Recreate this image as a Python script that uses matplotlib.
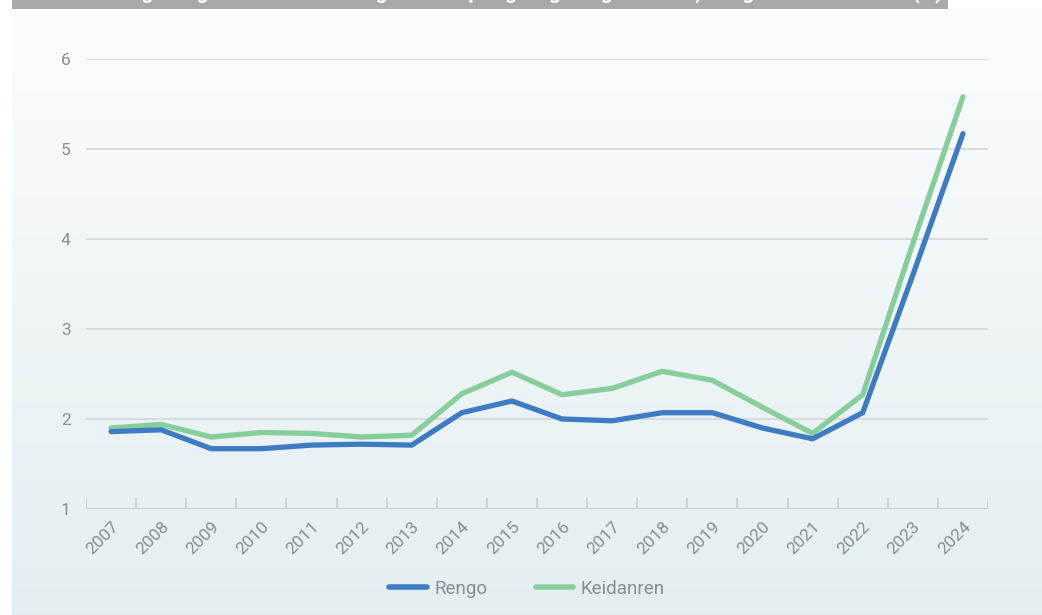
import matplotlib
matplotlib.use("Agg")
from matplotlib import pyplot as plt
from matplotlib.patches import Rectangle
import numpy as np

years = ['2007', '2008', '2009', '2010', '2011', '2012', '2013', '2014', '2015',
         '2016', '2017', '2018', '2019', '2020', '2021', '2022', '2023', '2024']
rengo = [1.86, 1.88, 1.67, 1.67, 1.71, 1.72, 1.71, 2.07, 2.20,
         2.00, 1.98, 2.07, 2.07, 1.90, 1.78, 2.07, 3.60, 5.17]
keidanren = [1.90, 1.94, 1.80, 1.85, 1.84, 1.80, 1.82, 2.28, 2.52,
             2.27, 2.34, 2.53, 2.43, 2.13, 1.84, 2.27, 3.95, 5.58]
yticks = [1, 2, 3, 4, 5, 6]
title = 'Chart: Average wage increase rates agreed in spring wage negotiations, Rengo and Keidanren (%)'

text_color = '#8b8d90'
blue = '#3d7cc3'
green = '#86cf9b'
plt.rcParams['font.family'] = ['Roboto', 'DejaVu Sans']

W, H = 1042, 615
fig = plt.figure(figsize=(W / 100, H / 100), dpi=100)
fig.patch.set_facecolor('white')

# gradient background panel
bg = fig.add_axes([12 / W, 0, 1 - 12 / W, 1 - 8 / H], zorder=0)
grad = np.linspace(0, 1, 256).reshape(-1, 1)
top = np.array([0.985, 0.99, 0.995])
bottom = np.array([0.894, 0.933, 0.945])
img = top + (bottom - top) * grad[:, :, None]
bg.imshow(img, aspect='auto', extent=[0, 1, 0, 1], origin='upper')
bg.set_axis_off()

# title bar, cut off by the top edge as in the original
bar = Rectangle((12 / W, 1 - 9 / H), 936 / W, 9 / H, transform=fig.transFigure,
                facecolor='#a7a9ac', edgecolor='none', zorder=1)
fig.patches.append(bar)
t = fig.text(24 / W, 1 + 1.5 / H, title, color='white', fontsize=15,
             fontweight='bold', va='baseline', ha='left', zorder=2)
t.set_clip_path(bar)

ax = fig.add_axes([86 / W, 1 - 509 / H, 902 / W, 450 / H], zorder=2)
ax.patch.set_alpha(0)
x = np.arange(len(years))

for v in yticks[1:]:
    ax.axhline(v, color='#d2d4d6', linewidth=1.1, zorder=1)
ax.axhline(1, color='#c9cbcd', linewidth=1.3, zorder=1)
ax.vlines(np.arange(len(years) + 1) - 0.5, 1, 1.122, color='#c9cbcd', linewidth=1.1, zorder=1)

ax.plot(x, rengo, color=blue, linewidth=3.8, solid_capstyle='round', solid_joinstyle='round',
        label='Rengo', zorder=3)
ax.plot(x, keidanren, color=green, linewidth=3.8, solid_capstyle='round', solid_joinstyle='round',
        label='Keidanren', zorder=2)

ax.set_xlim(-0.5, len(years) - 0.5)
ax.set_ylim(1, 6)
ax.set_yticks(yticks)
ax.set_yticklabels([str(v) for v in yticks], fontsize=12.5, color=text_color)
ax.set_xticks(x)
ax.set_xticklabels(years, fontsize=12.5, color=text_color, rotation=45,
                   ha='right', va='top', rotation_mode='anchor')
ax.tick_params(axis='both', length=0)
ax.tick_params(axis='y', pad=11)
ax.tick_params(axis='x', pad=7)
for s in ax.spines.values():
    s.set_visible(False)

leg = fig.legend(loc='center', bbox_to_anchor=(527 / W, 1 - 589 / H), ncol=2, frameon=False,
                 fontsize=13.5, handlelength=2.0, handletextpad=0.4, columnspacing=2.6,
                 labelcolor=text_color)
for line in leg.get_lines():
    line.set_linewidth(4)
    line.set_solid_capstyle('round')

fig.savefig('out.png', dpi=100)
